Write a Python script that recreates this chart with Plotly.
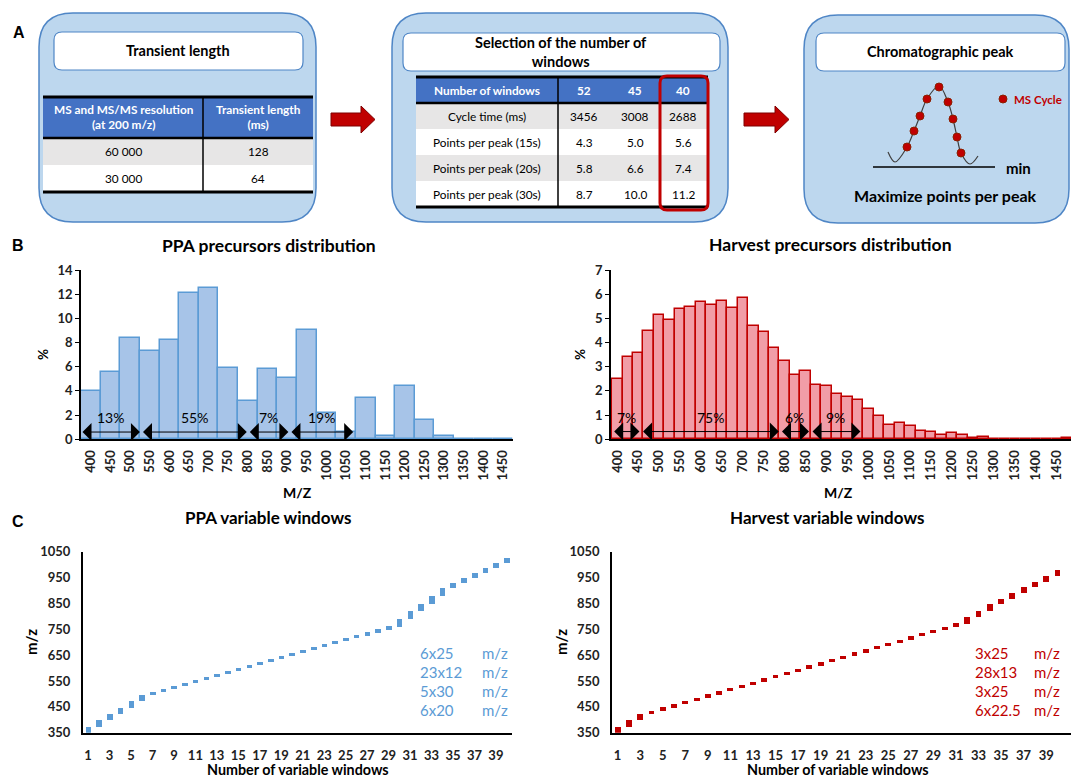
import plotly.graph_objects as go

W, H = 1071, 780
FONT = "Lato"

# ---------------- data ----------------
# panel B - precursor distributions (% of precursors per m/z bin)
ppa_bins = [400, 450, 500, 550, 600, 650, 700, 750, 800, 850, 900, 950, 1000,
            1050, 1100, 1150, 1200, 1250, 1300, 1350, 1400, 1450]
ppa_pct = [4.0, 5.6, 8.4, 7.3, 8.2, 12.1, 12.5, 5.9, 3.2, 5.8, 5.1, 9.0, 2.2,
           0.6, 3.4, 0.3, 4.4, 1.6, 0.3, 0.04, 0.04, 0.04]

harvest_bins = [400, 425, 450, 475, 500, 525, 550, 575, 600, 625, 650, 675, 700,
                725, 750, 775, 800, 825, 850, 875, 900, 925, 950, 975, 1000, 1025,
                1050, 1075, 1100, 1125, 1150, 1175, 1200, 1225, 1250, 1275, 1300,
                1325, 1350, 1375, 1400, 1425, 1450, 1475]
harvest_pct = [2.51, 3.40, 3.57, 4.49, 5.14, 4.92, 5.40, 5.46, 5.66, 5.57, 5.73, 5.44,
               5.86, 4.67, 4.42, 3.79, 3.22, 2.67, 2.82, 2.25, 2.19, 1.86, 1.74, 1.63,
               1.27, 0.96, 0.59, 0.66, 0.56, 0.36, 0.29, 0.18, 0.26, 0.17, 0.07, 0.11,
               0.03, 0.03, 0.03, 0.03, 0.03, 0, 0, 0.06]

mz_ticks = [400, 450, 500, 550, 600, 650, 700, 750, 800, 850, 900, 950, 1000,
            1050, 1100, 1150, 1200, 1250, 1300, 1350, 1400, 1450]

# arrow ranges drawn over the histograms
ppa_ranges = [(375, 525), (529, 797), (801, 903), (907, 1068)]
ppa_range_labels = ["13%", "55%", "7%", "19%"]
harvest_ranges = [(389, 453), (458, 786), (790, 858), (863, 981)]
harvest_range_labels = ["7%", "75%", "6%", "9%"]

# panel C - variable isolation windows (low / high m/z)
windows = list(range(1, 41))
ppa_low = [350, 374.5, 399, 423.5, 448, 472.5, 497, 508.5, 520, 531.5, 543, 554.5,
           566, 577.5, 589, 600.5, 612, 623.5, 635, 646.5, 658, 669.5, 681, 692.5,
           704, 715.5, 727, 738.5, 750, 761.5, 791, 820.5, 850, 879.5, 909, 928.5,
           948, 967.5, 987, 1006.5]
ppa_high = [375, 399.5, 424, 448.5, 473, 497.5, 509, 520.5, 532, 543.5, 555, 566.5,
            578, 589.5, 601, 612.5, 624, 635.5, 647, 658.5, 670, 681.5, 693, 704.5,
            716, 727.5, 739, 750.5, 762, 791.5, 821, 850.5, 880, 909.5, 929, 948.5,
            968, 987.5, 1007, 1026.5]
harvest_low = [350, 374.5, 399, 423.5, 436, 448.5, 461, 473.5, 486, 498.5, 511, 523.5,
               536, 548.5, 561, 573.5, 586, 598.5, 611, 623.5, 636, 648.5, 661, 673.5,
               686, 698.5, 711, 723.5, 736, 748.5, 761, 773.5, 798, 822.5, 847, 869,
               891, 913, 935, 957]
harvest_high = [375, 399.5, 424, 436.5, 449, 461.5, 474, 486.5, 499, 511.5, 524, 536.5,
                549, 561.5, 574, 586.5, 599, 611.5, 624, 636.5, 649, 661.5, 674, 686.5,
                699, 711.5, 724, 736.5, 749, 761.5, 774, 798.5, 823, 847.5, 869.5, 891.5,
                913.5, 935.5, 957.5, 979.5]
ppa_scheme = ["6x25", "23x12", "5x30", "6x20"]
harvest_scheme = ["3x25", "28x13", "3x25", "6x22.5"]

# panel A - tables
t1_header = ["MS and MS/MS resolution<br>(at 200 m/z)", "Transient length<br>(ms)"]
t1_resolution = ["60 000", "30 000"]
t1_transient = ["128", "64"]
t2_header = ["Number of windows", "52", "45", "40"]
t2_rows = ["Cycle time (ms)", "Points per peak (15s)", "Points per peak (20s)",
           "Points per peak (30s)"]
t2_w52 = ["3456", "4.3", "5.8", "8.7"]
t2_w45 = ["3008", "5.0", "6.6", "10.0"]
t2_w40 = ["2688", "5.6", "7.4", "11.2"]

# chromatographic peak sketch (MS cycles along the peak)
peak_t = [3.7, 4.4, 5.0, 5.7, 6.9, 7.8, 8.3, 8.7, 9.1]
peak_i = [2.3, 3.9, 5.4, 7.1, 8.3, 6.8, 5.1, 3.3, 1.7]
curve_t = [1.8, 2.5, 3.7, 4.4, 5.0, 5.7, 6.9, 7.8, 8.3, 8.7, 9.1, 10.0, 10.8]
curve_i = [1.8, 0.8, 2.3, 3.9, 5.4, 7.1, 8.4, 6.8, 5.1, 3.3, 1.7, 0.6, 1.4]

BLUE_BAR = "#A7C4E8"
BLUE_EDGE = "#5B9BD5"
RED_BAR = "#F19DA7"
RED_EDGE = "#C00000"


def X(x):
    return x / W


def Y(y):
    return 1 - y / H


fig = go.Figure()

# --- B: histograms ---
fig.add_trace(go.Bar(x=ppa_bins, y=ppa_pct, width=50, xaxis="x", yaxis="y",
                     marker=dict(color=BLUE_BAR, line=dict(color=BLUE_EDGE, width=1.5))))
fig.add_trace(go.Bar(x=harvest_bins, y=harvest_pct, width=25, xaxis="x2", yaxis="y2",
                     marker=dict(color=RED_BAR, line=dict(color=RED_EDGE, width=1.5))))

# --- C: variable windows as floating bars ---
fig.add_trace(go.Bar(x=windows, base=ppa_low,
                     y=[h - l for l, h in zip(ppa_low, ppa_high)],
                     width=0.52, xaxis="x3", yaxis="y3",
                     marker=dict(color=BLUE_EDGE, line=dict(width=0))))
fig.add_trace(go.Bar(x=windows, base=harvest_low,
                     y=[h - l for l, h in zip(harvest_low, harvest_high)],
                     width=0.52, xaxis="x4", yaxis="y4",
                     marker=dict(color=RED_EDGE, line=dict(width=0))))

# --- A: peak sketch ---
fig.add_trace(go.Scatter(x=curve_t, y=curve_i, mode="lines", xaxis="x5", yaxis="y5",
                         line=dict(color="#404040", width=1.2, shape="spline"),
                         hoverinfo="skip"))
fig.add_trace(go.Scatter(x=peak_t + [13.3], y=peak_i + [7.1], mode="markers",
                         xaxis="x5", yaxis="y5",
                         marker=dict(color="#C00000", size=8,
                                     line=dict(color="#8B2000", width=1))))

tick_font = dict(family=FONT, size=13, color="#222", weight="bold")
axis_common = dict(showline=True, linecolor="black", linewidth=1.5, showgrid=False,
                   zeroline=False, tickfont=tick_font, fixedrange=True,
                   automargin=False)

shapes = []
annotations = []


def rrect(x0, y0, x1, y1, r, fill, line, lw):
    p = (f"M {X(x0 + r)},{Y(y0)} L {X(x1 - r)},{Y(y0)} Q {X(x1)},{Y(y0)} {X(x1)},{Y(y0 + r)} "
         f"L {X(x1)},{Y(y1 - r)} Q {X(x1)},{Y(y1)} {X(x1 - r)},{Y(y1)} "
         f"L {X(x0 + r)},{Y(y1)} Q {X(x0)},{Y(y1)} {X(x0)},{Y(y1 - r)} "
         f"L {X(x0)},{Y(y0 + r)} Q {X(x0)},{Y(y0)} {X(x0 + r)},{Y(y0)} Z")
    shapes.append(dict(type="path", path=p, xref="paper", yref="paper",
                       fillcolor=fill, line=dict(color=line, width=lw), layer="below"))


def rect(x0, y0, x1, y1, fill):
    shapes.append(dict(type="rect", xref="paper", yref="paper", x0=X(x0), x1=X(x1),
                       y0=Y(y1), y1=Y(y0), fillcolor=fill, line=dict(width=0),
                       layer="below"))


def hline(x0, x1, y, w, color="black"):
    shapes.append(dict(type="line", xref="paper", yref="paper", x0=X(x0), x1=X(x1),
                       y0=Y(y), y1=Y(y), line=dict(color=color, width=w)))


def vline(x, y0, y1, w, color="black"):
    shapes.append(dict(type="line", xref="paper", yref="paper", x0=X(x), x1=X(x),
                       y0=Y(y0), y1=Y(y1), line=dict(color=color, width=w)))


def text(x, y, s, size=11, color="black", bold=False, angle=0, family=FONT):
    annotations.append(dict(x=X(x), y=Y(y), xref="paper", yref="paper",
                            text=f"<b>{s}</b>" if bold else s, showarrow=False,
                            xanchor="center", yanchor="middle", textangle=angle,
                            font=dict(family=family, size=size, color=color)))


def fat_arrow(x0, x1, xh, yc):
    pts = [(x0, yc - 6.5), (xh, yc - 6.5), (xh, yc - 13.5), (x1, yc), (xh, yc + 13.5),
           (xh, yc + 6.5), (x0, yc + 6.5)]
    p = "M " + " L ".join(f"{X(a)},{Y(b)}" for a, b in pts) + " Z"
    shapes.append(dict(type="path", path=p, xref="paper", yref="paper",
                       fillcolor="#C00000", line=dict(color="#7F0000", width=1)))


BOX_FILL = "#BDD7EE"
BOX_LINE = "#4F86C6"

# panel A boxes
rrect(39, 13, 316, 222, 34, BOX_FILL, BOX_LINE, 1.5)
rrect(392, 13, 728, 222, 34, BOX_FILL, BOX_LINE, 1.5)
rrect(804, 15, 1069, 223, 34, BOX_FILL, BOX_LINE, 1.5)
rrect(54, 32, 303, 70, 8, "white", BOX_LINE, 1.2)
rrect(403, 33, 720, 71, 8, "white", BOX_LINE, 1.2)
rrect(816, 33, 1065, 71, 8, "white", BOX_LINE, 1.2)
text(178, 51, "Transient length", 14.5, bold=True)
text(561, 52, "Selection of the number of<br>windows", 14.5, bold=True)
text(940, 52, "Chromatographic peak", 14.5, bold=True)

# table 1
HEAD = "#4472C4"
GRAY = "#E7E6E6"
rect(43, 97, 313, 138, HEAD)
rect(43, 138, 313, 165, GRAY)
rect(43, 165, 313, 192, "white")
hline(43, 313, 97, 3)
hline(43, 313, 138, 2.5)
hline(43, 313, 192, 3)
vline(203, 97, 192, 1.5)
text(123, 117, t1_header[0], 11.8, "white", True)
text(258, 117, t1_header[1], 11.8, "white", True)
for i, (a, b) in enumerate(zip(t1_resolution, t1_transient)):
    yy = 151.5 + 27 * i
    text(123, yy, a, 11.8)
    text(258, yy, b, 11.8)

# table 2
rect(416, 77, 708, 103, HEAD)
for i in range(4):
    rect(416, 103 + 26 * i, 708, 129 + 26 * i, GRAY if i % 2 == 0 else "white")
hline(416, 708, 77, 3)
hline(416, 708, 103, 2.5)
hline(416, 708, 207, 3)
vline(558, 77, 207, 1.5)
col_x = [487, 584, 635, 683]
for cx, h in zip(col_x, t2_header):
    text(cx, 90, h, 11.8, "white", True)
for i, row in enumerate(zip(t2_rows, t2_w52, t2_w45, t2_w40)):
    for cx, v in zip(col_x, row):
        text(cx, 116 + 26 * i, v, 11.8)
rrect(660, 76, 708, 210, 7, "rgba(0,0,0,0)", "#C00000", 3)
shapes[-1]["layer"] = "above"

fat_arrow(331, 375, 361, 119.5)
fat_arrow(744, 789, 775, 119.5)

# peak box texts
shapes.append(dict(type="line", xref="x5", yref="y5", x0=0.3, x1=12.5, y0=0.3, y1=0.3,
                   line=dict(color="black", width=1.3)))
text(1018, 168, "min", 15, bold=True)
text(1038, 100, "MS Cycle", 11.5, "#C00000", True)
text(945, 195, "Maximize points per peak", 16, bold=True)

# panel letters and titles
text(19, 33, "A", 16, bold=True, family="Liberation Sans")
text(18, 245, "B", 16, bold=True, family="Liberation Sans")
text(18, 521, "C", 16, bold=True, family="Liberation Sans")
text(269, 245, "PPA precursors distribution", 17.5, bold=True)
text(830, 244, "Harvest precursors distribution", 17.5, bold=True)
text(268, 517, "PPA variable windows", 17, bold=True)
text(827, 517, "Harvest variable windows", 17, bold=True)

# axis titles
text(43, 355, "%", 13.5, bold=True, angle=-90)
text(580, 355, "%", 13.5, bold=True, angle=-90)
text(297, 492, "M/Z", 14, bold=True)
text(838, 492, "M/Z", 14, bold=True)
text(31, 642, "m/z", 15, bold=True, angle=-90)
text(561, 642, "m/z", 15, bold=True, angle=-90)
text(298, 769, "Number of variable windows", 14.3, bold=True)
text(838, 769, "Number of variable windows", 14.3, bold=True)

# window scheme texts
for i, s in enumerate(ppa_scheme):
    yy = 653 + 18.9 * i
    annotations.append(dict(x=X(418), y=Y(yy), xref="paper", yref="paper", text=s,
                            showarrow=False, xanchor="left", yanchor="middle",
                            font=dict(family=FONT, size=15, color=BLUE_EDGE)))
    annotations.append(dict(x=X(480), y=Y(yy), xref="paper", yref="paper", text="m/z",
                            showarrow=False, xanchor="left", yanchor="middle",
                            font=dict(family=FONT, size=15, color=BLUE_EDGE)))
for i, s in enumerate(harvest_scheme):
    yy = 653 + 18.9 * i
    annotations.append(dict(x=X(973), y=Y(yy), xref="paper", yref="paper", text=s,
                            showarrow=False, xanchor="left", yanchor="middle",
                            font=dict(family=FONT, size=15, color=RED_EDGE)))
    annotations.append(dict(x=X(1032), y=Y(yy), xref="paper", yref="paper", text="m/z",
                            showarrow=False, xanchor="left", yanchor="middle",
                            font=dict(family=FONT, size=15, color=RED_EDGE)))

# double-headed range arrows on the histograms
for (xa, ya, ranges, labels, yarr, ylab) in [
        ("x", "y", ppa_ranges, ppa_range_labels, 0.6, 1.8),
        ("x2", "y2", harvest_ranges, harvest_range_labels, 0.32, 0.9)]:
    for (a, b), lab in zip(ranges, labels):
        annotations.append(dict(x=b, y=yarr, ax=a, ay=yarr, xref=xa, yref=ya,
                                axref=xa, ayref=ya, text="", showarrow=True,
                                arrowhead=1, startarrowhead=1, arrowside="end+start",
                                arrowsize=3, startarrowsize=3, arrowwidth=1,
                                arrowcolor="black", standoff=0, startstandoff=0))
        annotations.append(dict(x=(a + b) / 2, y=ylab, xref=xa, yref=ya, text=lab,
                                showarrow=False, font=dict(family=FONT, size=14,
                                                           color="black")))

fig.update_layout(
    width=W, height=H, margin=dict(l=0, r=0, t=0, b=0, autoexpand=False),
    paper_bgcolor="white", plot_bgcolor="rgba(0,0,0,0)", showlegend=False,
    bargap=0, font=dict(family=FONT),
    xaxis=dict(axis_common, domain=[X(81), X(513)], range=[375, 1475], anchor="y",
               tickvals=mz_ticks, tickangle=-90, ticks="", ticklabelstandoff=4),
    yaxis=dict(axis_common, domain=[Y(439.3), Y(270)], range=[0, 14], dtick=2,
               anchor="x", ticks="outside", ticklen=4, tickcolor="black"),
    xaxis2=dict(axis_common, domain=[X(611), 1.0], range=[385, 1484], anchor="y2",
                tickvals=mz_ticks, tickangle=-90, ticks="", ticklabelstandoff=4),
    yaxis2=dict(axis_common, domain=[Y(439.3), Y(270)], range=[0, 7], dtick=1,
                anchor="x2", ticks="outside", ticklen=4, tickcolor="black"),
    xaxis3=dict(axis_common, domain=[X(82.7), X(512)], range=[0.5, 40.5], anchor="y3",
                tickvals=list(range(1, 40, 2)), ticks="", ticklabelstandoff=10),
    yaxis3=dict(axis_common, domain=[Y(732.7), Y(551.7)], range=[350, 1050],
                tick0=350, dtick=100, anchor="x3", ticks="", ticklabelstandoff=8),
    xaxis4=dict(axis_common, domain=[X(612), 1.0], range=[0.5, 41.2], anchor="y4",
                tickvals=list(range(1, 40, 2)), ticks="", ticklabelstandoff=10),
    yaxis4=dict(axis_common, domain=[Y(732.7), Y(551.7)], range=[350, 1050],
                tick0=350, dtick=100, anchor="x4", ticks="", ticklabelstandoff=8),
    xaxis5=dict(domain=[X(870), X(1010)], range=[0, 14], visible=False, anchor="y5",
                fixedrange=True, automargin=False),
    yaxis5=dict(domain=[Y(170), Y(80)], range=[0, 9], visible=False, anchor="x5",
                fixedrange=True, automargin=False),
    shapes=shapes, annotations=annotations,
)

# page body margin would push the fixed-size figure out of the window
fig.write_html("out.html", config={"displayModeBar": False},
               post_script="document.body.style.margin='0';"
               "document.body.style.overflow='hidden';")
